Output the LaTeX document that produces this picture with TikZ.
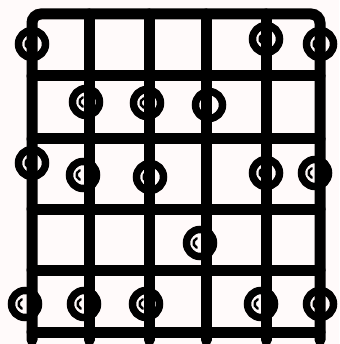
\documentclass[tikz,border=0pt]{standalone}
\begin{document}
\begin{tikzpicture}[x=1pt,y=-1pt,
  gridline/.style={line width=11pt,line cap=round,black},
  bead/.style={circle,draw=black,line width=7.5pt,minimum size=27pt,inner sep=0pt,
    path picture={\draw[line width=2.4pt,line cap=round]
      ([xshift=-1.5pt]path picture bounding box.center) ++(110:5pt) arc(110:250:5pt);}}
]
\useasboundingbox (0,0) rectangle (339,344);
\fill[white!98!red] (0,0) rectangle (339,344);
% grid
\draw[gridline,rounded corners=9pt] (32,340) -- (32,14) -- (320,14) -- (320,340);
\foreach \x in {89,149,206,266} \draw[gridline] (\x,14) -- (\x,340);
\foreach \y in {76,139,209,270,332} \draw[gridline] (32,\y) -- (320,\y);
% beads
\node[bead] (b11) at (32,44) {};
\node[bead] (b12) at (266,39) {};
\node[bead] (b13) at (320,44) {};
\node[bead] (b21) at (86,102) {};
\node[bead] (b22) at (147,103) {};
\node[bead] (b23) at (209,105) {};
\node[bead] (b31) at (32,163) {};
\node[bead] (b32) at (83,175) {};
\node[bead] (b33) at (150,177) {};
\node[bead] (b34) at (266,173) {};
\node[bead] (b35) at (315,173) {};
\node[bead] (b41) at (200,243) {};
\node[bead] (b51) at (25,304) {};
\node[bead] (b52) at (84,304) {};
\node[bead] (b53) at (146,304) {};
\node[bead] (b54) at (261,304) {};
\node[bead] (b55) at (320,304) {};
\end{tikzpicture}
\end{document}
